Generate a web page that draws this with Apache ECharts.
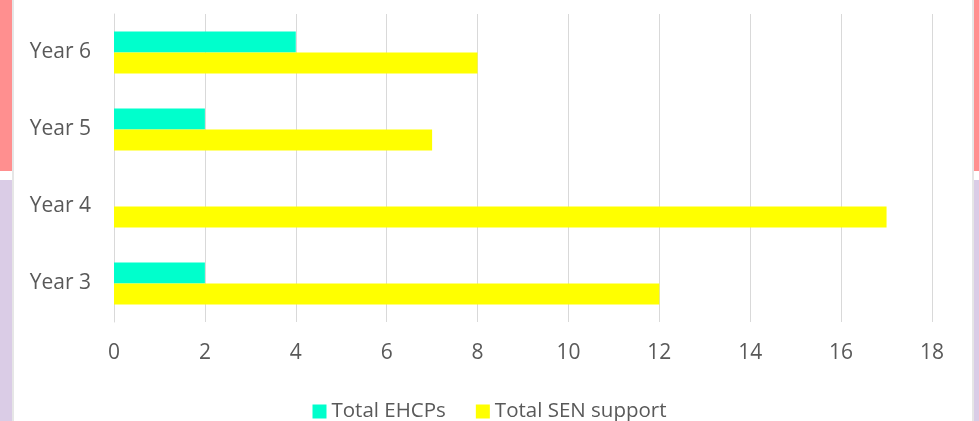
<!DOCTYPE html>
<html><head><meta charset="utf-8">
<script src="https://cdn.jsdelivr.net/npm/echarts@6/dist/echarts.min.js"></script>
<style>html,body{margin:0;padding:0;background:#fff}#c{width:979px;height:421px}</style>
</head><body><div id="c"></div>
<script>
const categories = ['Year 3', 'Year 4', 'Year 5', 'Year 6'];
const ehcps = [2, 0, 2, 4];
const senSupport = [12, 17, 7, 8];
const xTicks = { min: 0, max: 18, interval: 2 };

const chart = echarts.init(document.getElementById('c'));
const txt = '#595959';
chart.setOption({
  animation: false,
  textStyle: { fontFamily: 'Open Sans' },
  graphic: [
    { type: 'rect', shape: { x: 0, y: 0, width: 12, height: 171 }, style: { fill: '#ff8f8f' }, silent: true },
    { type: 'rect', shape: { x: 0, y: 180, width: 12, height: 241 }, style: { fill: '#dacce6' }, silent: true },
    { type: 'rect', shape: { x: 12, y: 0, width: 2, height: 421 }, style: { fill: '#e6e6e6' }, silent: true },
    { type: 'rect', shape: { x: 972, y: 0, width: 2, height: 421 }, style: { fill: '#e6e6e6' }, silent: true },
    { type: 'rect', shape: { x: 974, y: 0, width: 5, height: 171 }, style: { fill: '#ff8f8f' }, silent: true },
    { type: 'rect', shape: { x: 974, y: 180, width: 5, height: 241 }, style: { fill: '#dacce6' }, silent: true }
  ],
  grid: { left: 114, right: 47, top: 14, bottom: 99 },
  legend: {
    data: ['Total EHCPs', 'Total SEN support'],
    top: 396, left: 'center',
    itemWidth: 14, itemHeight: 14, itemGap: 30,
    icon: 'rect',
    textStyle: { color: txt, fontSize: 20.5, fontFamily: 'Open Sans' }
  },
  xAxis: {
    type: 'value', min: xTicks.min, max: xTicks.max, interval: xTicks.interval,
    axisLine: { show: false }, axisTick: { show: false },
    splitLine: { lineStyle: { color: '#d9d9d9', width: 1 } },
    axisLabel: { color: txt, fontSize: 21, margin: 21 }
  },
  yAxis: {
    type: 'category', data: categories,
    axisLine: { lineStyle: { color: '#d9d9d9' } },
    axisTick: { show: false },
    axisLabel: { color: txt, fontSize: 21, margin: 23 }
  },
  series: [
    { name: 'Total EHCPs', type: 'bar', data: ehcps, itemStyle: { color: '#00ffcc' }, barWidth: 21, barGap: '0%' },
    { name: 'Total SEN support', type: 'bar', data: senSupport, itemStyle: { color: '#ffff00' }, barWidth: 21, barGap: '0%' }
  ]
});
</script></body></html>
